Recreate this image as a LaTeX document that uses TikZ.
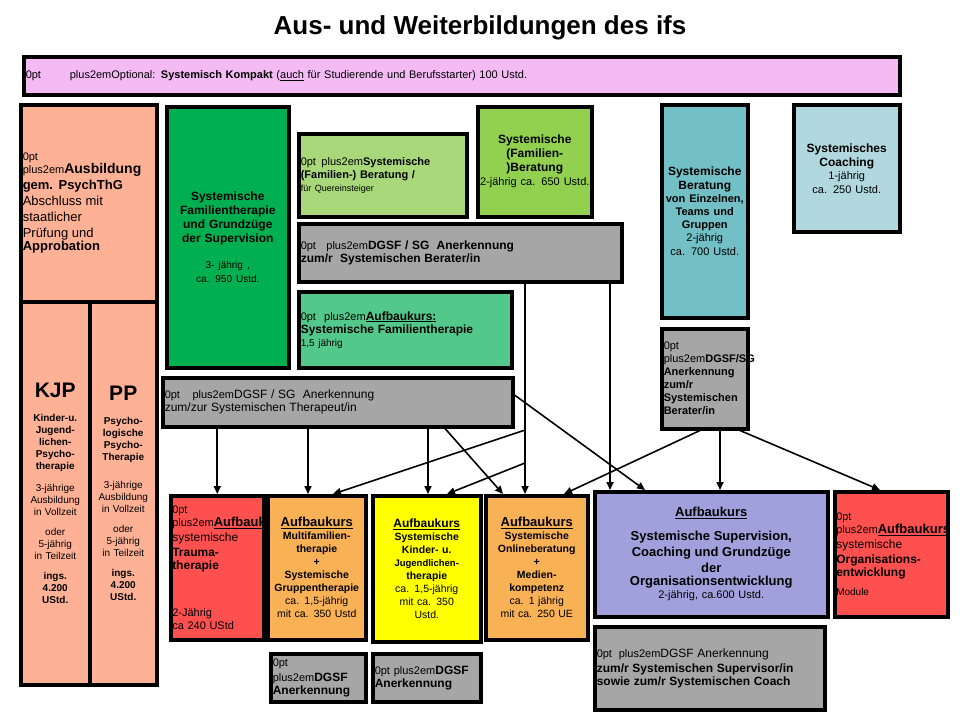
\documentclass[tikz,border=0pt]{standalone}
\usepackage{fontspec}
\setmainfont{Liberation Sans}
\usetikzlibrary{calc,arrows.meta}
\definecolor{pinkc}{HTML}{F4BAF4}
\definecolor{salmon}{HTML}{FFB196}
\definecolor{dgreen}{HTML}{00B050}
\definecolor{lgreen}{HTML}{A9D87A}
\definecolor{mgreen}{HTML}{92D050}
\definecolor{sgreen}{HTML}{52C98A}
\definecolor{greyc}{HTML}{A6A6A6}
\definecolor{teal}{HTML}{72BFC5}
\definecolor{lteal}{HTML}{B0D8DE}
\definecolor{redc}{HTML}{FF5050}
\definecolor{orangec}{HTML}{F9B155}
\definecolor{yellowc}{HTML}{FFFF00}
\definecolor{purplec}{HTML}{A0A0DC}
\newcommand{\fs}[2]{\fontsize{#1}{#2}\selectfont}
\begin{document}
\begin{tikzpicture}[x=1pt,y=-1pt,
  box/.style={draw=black,line width=3.5pt,anchor=north west,align=center,inner sep=1pt,font=\fontsize{11}{13}\selectfont\hyphenpenalty=10000\exhyphenpenalty=10000},
  arr/.style={-{Triangle[length=8pt,width=7pt]},line width=1.6pt}]
\useasboundingbox (0,0) rectangle (960,720);
\newcommand{\bx}[7]{\node[box,fill=#6,minimum width=#3-#1,minimum height=#4-#2,text width=#3-#1-4] (#5) at (#1,#2) {#7};}
\node[font=\fontsize{26}{28}\selectfont\bfseries] (title) at (480,28) {Aus- und Weiterbildungen des ifs};
\bx{22}{55}{898}{93}{opt}{pinkc}{Optional: \textbf{Systemisch Kompakt} (\underline{auch} für Studierende und Berufsstarter) 100 Ustd.}
\bx{19}{103}{155}{300}{ausb}{salmon}{{\fs{14}{17}\textbf{Ausbildung}}\\{\fs{13}{16}\textbf{gem. PsychThG}\\Abschluss mit\\staatlicher\\Prüfung und\\\textbf{Approbation}}\\[14pt]}
\node[box,fill=salmon,minimum width=69,minimum height=383,text width=66,font=\fontsize{10}{12}\selectfont] (kjp) at (19,300) {{\fs{21}{24}\textbf{KJP}}\\[12pt]\textbf{Kinder-u.}\\\textbf{Jugend-}\\\textbf{lichen-}\\\textbf{Psycho-}\\\textbf{therapie}\\[10pt]3-jährige\\Ausbildung\\in Vollzeit\\[8pt]oder\\5-jährig\\in Teilzeit\\[8pt]\textbf{ings.}\\\textbf{4.200}\\\textbf{UStd.}\\[20pt]};
\node[box,fill=salmon,minimum width=67,minimum height=383,text width=64,font=\fontsize{10}{12}\selectfont] (pp) at (88,300) {{\fs{21}{24}\textbf{PP}}\\[12pt]\textbf{Psycho-}\\\textbf{logische}\\\textbf{Psycho-}\\\textbf{Therapie}\\[16pt]3-jährige\\Ausbildung\\in Vollzeit\\[8pt]oder\\5-jährig\\in Teilzeit\\[8pt]\textbf{ings.}\\\textbf{4.200}\\\textbf{UStd.}\\[32pt]};
\node[box,fill=dgreen,minimum width=122,minimum height=261,text width=118,font=\fontsize{12}{14}\selectfont] (sft) at (165,105) {\textbf{Systemische\\Familientherapie\\und Grundzüge\\der Supervision}\\[14pt]{\fs{10}{12}3- jährig ,\\ca. 950 Ustd.}\\[100pt]};
\bx{297}{132}{465}{215}{fbq}{lgreen}{\textbf{Systemische}\\\textbf{(Familien-) Beratung /}\\{\fs{9}{11}für Quereinsteiger}}
\node[box,fill=mgreen,minimum width=114,minimum height=110,text width=110,font=\fontsize{12}{14}\selectfont] (fb) at (476,105) {\textbf{Systemische}\\\textbf{(Familien-)Beratung}\\{\fs{11}{13}2-jährig ca. 650 Ustd.}\\[30pt]};
\bx{297}{222}{620}{280}{dgb}{greyc}{{\fs{12}{15}\textbf{DGSF / SG\ \ Anerkennung}\\\textbf{zum/r\ \ Systemischen Berater/in}}}
\bx{297}{290}{510}{366}{aft}{sgreen}{{\fs{12}{15}\underline{\textbf{Aufbaukurs:}}\\\textbf{Systemische Familientherapie}}\\{\fs{10}{12}1,5 jährig}}
\bx{161}{376}{511}{425}{dgt}{greyc}{{\fs{12}{15}DGSF / SG\ \ Anerkennung\\zum/zur Systemischen Therapeut/in}}
\node[box,fill=teal,minimum width=86,minimum height=213,text width=84,font=\fontsize{12}{14}\selectfont] (ber) at (660,103) {\textbf{Systemische\\Beratung}\\{\fs{11}{13}\textbf{von Einzelnen,\\Teams und\\Gruppen}\\2-jährig\\ca. 700 Ustd.}\\[64pt]};
\node[box,fill=lteal,minimum width=106,minimum height=127,text width=102,font=\fontsize{12}{14}\selectfont] (coach) at (792,103) {\textbf{Systemisches\\Coaching}\\{\fs{11}{13}1-jährig\\ca. 250 Ustd.}\\[40pt]};
\bx{660}{327}{746}{427}{dgb2}{greyc}{\textbf{DGSF/SG\\Anerkennung\\zum/r\\Systemischen\\Berater/in}}
\node[box,fill=redc,minimum width=93,minimum height=144,text width=90] (trauma) at (169,494) {{\fs{13}{15}\underline{\textbf{Aufbaukurs}}}\\{\fs{12}{15}systemische\\\textbf{Trauma-\\therapie}}\\[34pt]2-Jährig\\ca 240 UStd\\[4pt]};
\node[box,fill=orangec,minimum width=98,minimum height=144,text width=96,font=\fontsize{10.5}{13}\selectfont] (multi) at (266,494) {{\fs{13}{15}\underline{\textbf{Aufbaukurs}}}\\\textbf{Multifamilien-\\therapie\\+\\Systemische\\Gruppentherapie}\\ca. 1,5-jährig\\mit ca. 350 Ustd};
\node[box,fill=yellowc,minimum width=108,minimum height=146,text width=104,font=\fontsize{10.5}{13}\selectfont] (kjt) at (371,494) {{\fs{12}{15}\underline{\textbf{Aufbaukurs}}}\\\textbf{Systemische\\Kinder- u.}\\{\fs{9.5}{13}\textbf{Jugendlichen-}}\\\textbf{therapie}\\ca. 1,5-jährig\\mit ca. 350\\Ustd.\\[14pt]};
\node[box,fill=orangec,minimum width=102,minimum height=144,text width=98,font=\fontsize{10.5}{13}\selectfont] (online) at (484,494) {{\fs{13}{15}\underline{\textbf{Aufbaukurs}}}\\\textbf{Systemische\\Onlineberatung\\+\\Medien-\\kompetenz}\\ca. 1 jährig\\mit ca. 250 UE};
\node[box,fill=purplec,minimum width=233,minimum height=125,text width=226,font=\fontsize{11}{13}\selectfont] (sup) at (593,490) {{\fs{13}{15}\underline{\textbf{Aufbaukurs}}}\\[8pt]{\fs{13}{16}\textbf{Systemische Supervision,\\Coaching und Grundzüge\\der\\Organisationsentwicklung}}\\2-jährig, ca.600 Ustd.};
\node[box,fill=redc,minimum width=113,minimum height=125,text width=110] (org) at (833,490) {{\fs{13}{15}\underline{\textbf{Aufbaukurs}}}\\{\fs{12}{15}systemische\\\textbf{Organisations-\\entwicklung}}\\[6pt]{\fs{10}{12}Module}\\[30pt]};
\bx{593}{625}{823}{708}{dgs}{greyc}{{\fs{12}{15}DGSF Anerkennung\\\textbf{zum/r Systemischen Supervisor/in}\\\textbf{sowie zum/r Systemischen Coach}}}
\bx{269}{652}{364}{700}{dg1}{greyc}{{\fs{12}{15}\textbf{DGSF}\\\textbf{Anerkennung}}}
\bx{371}{652}{479}{700}{dg2}{greyc}{{\fs{12}{15}\textbf{DGSF}\\\textbf{Anerkennung}}}
% connectors
\draw[arr] (dgt.south -| trauma.north) -- (trauma.north);
\coordinate (m1) at (308,425); \draw[arr] (dgt.south -| m1) -- (m1 |- multi.north);
\coordinate (k1) at (428,425); \draw[arr] (dgt.south -| k1) -- (k1 |- kjt.north);
\coordinate (k2) at (445,425); \coordinate (o1) at (503,494);
\draw[arr] (dgt.south -| k2) -- (o1 |- online.north);
\coordinate (t3) at (511,395); \coordinate (s1) at (645,490);
\draw[arr] (dgt.east |- t3) -- (s1 |- sup.north);
\coordinate (b1) at (525,280); \coordinate (br1) at (525,430); \coordinate (br2) at (525,463);
\draw[arr] (dgb.south -| b1) -- (b1 |- online.north);
\coordinate (m2) at (333,494); \draw[arr] (br1) -- (m2 |- multi.north);
\coordinate (k3) at (447,494); \draw[arr] (br2) -- (k3 |- kjt.north);
\coordinate (b2) at (610,280); \draw[arr] (dgb.south -| b2) -- (b2 |- sup.north);
\coordinate (d1) at (700,427); \coordinate (o2) at (564,494);
\draw[arr] (dgb2.south -| d1) -- (o2 |- online.north);
\coordinate (d2) at (720,427); \draw[arr] (dgb2.south -| d2) -- (d2 |- sup.north);
\coordinate (d3) at (740,427); \coordinate (g1) at (880,490);
\draw[arr] (dgb2.south -| d3) -- (g1 |- org.north);
\end{tikzpicture}
\end{document}
